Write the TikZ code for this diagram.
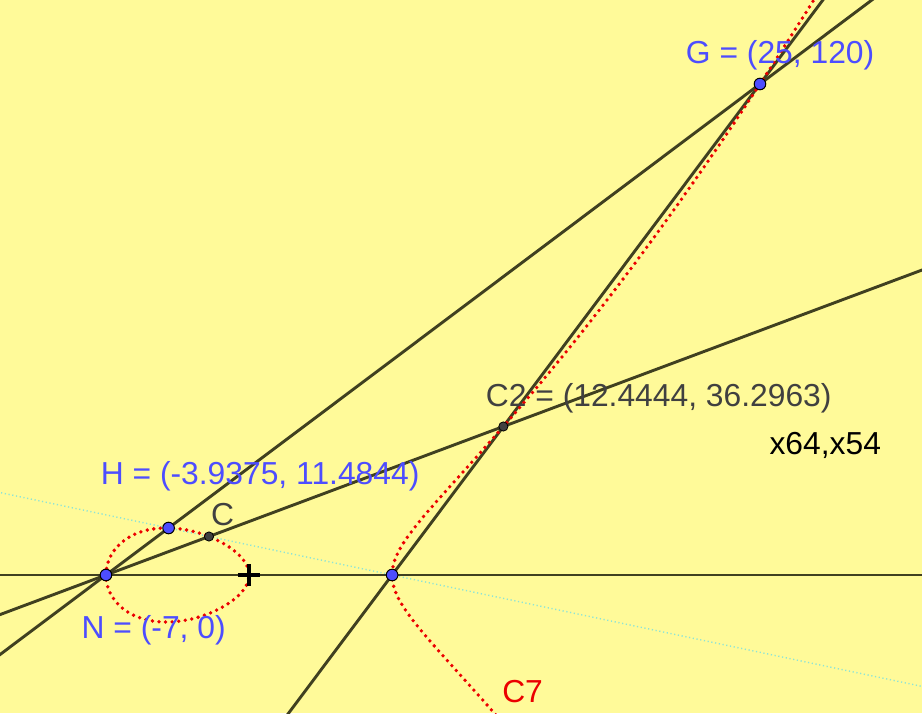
\documentclass[tikz,border=0pt]{standalone}
\usepackage{fontspec}
\setmainfont{Liberation Sans}
\usepackage{tikz}
\usetikzlibrary{calc}

\definecolor{bgyellow}{RGB}{255,250,153}
\definecolor{olive}{RGB}{64,64,32}
\definecolor{ptblue}{RGB}{77,77,255}
\definecolor{ptgray}{RGB}{64,64,64}
\definecolor{paleaqua}{RGB}{140,228,215}

\begin{document}
\begin{tikzpicture}[
    x=10.21875pt, y=2.04583pt,
    bluept/.style={circle, draw=black, line width=0.5pt, fill=ptblue, minimum size=5.8pt, inner sep=0pt},
    darkpt/.style={circle, draw=black, line width=0.4pt, fill=ptgray, minimum size=4.6pt, inner sep=0pt},
    gline/.style={olive, line width=1.45pt},
    helper/.style={paleaqua, line width=0.7pt, dash pattern=on 0.6pt off 1.3pt},
    curve/.style={red!92!black, line width=1.9pt, line cap=round, dash pattern=on 0pt off 3.3pt},
    lbl/.style={anchor=base west, inner sep=0pt, font=\fontsize{15.9}{18}\selectfont}
  ]
  % frame
  \fill[bgyellow] (-12.186,-33.727) rectangle (32.927,140.53);
  \useasboundingbox (-12.186,-33.727) rectangle (32.927,140.53);
  \clip (-12.186,-33.727) rectangle (32.927,140.53);

  % points on y^2 = x^3 - 49x
  \coordinate (n) at (-7,0);
  \coordinate (h) at (-3.9375,11.4844);
  \coordinate (c) at (-1.96,9.408);
  \coordinate (c2) at (12.4444,36.2963);
  \coordinate (g) at (25,120);
  \coordinate (s) at (7,0);
  \coordinate (o) at (0,0);

  % lines
  \draw[helper] ($(c)!-12!(s)$) -- ($(c)!12!(s)$);
  \draw[gline] ($(n)!-12!(s)$) -- ($(n)!12!(s)$);
  \draw[gline] ($(n)!-2!(g)$) -- ($(n)!3!(g)$);
  \draw[gline] ($(n)!-2!(c2)$) -- ($(n)!3!(c2)$);
  \draw[gline] ($(s)!-2!(g)$) -- ($(s)!3!(g)$);

  % the cubic
  \draw[curve] plot[domain=0:360, samples=140, variable=\a, smooth]
    ({-3.5-3.5*cos(\a)}, {sqrt(42.875*(3+cos(\a)))*sin(\a)});
  \draw[curve] plot[domain=-2.6:4.7, samples=140, variable=\t, smooth]
    ({7+\t*\t}, {\t*sqrt((7+\t*\t)*(14+\t*\t))});

  % origin mark
  \draw[black, line width=2pt] ($(o)+(-0.55,0)$) -- ($(o)+(0.55,0)$)
    ($(o)+(0,-2.7)$) -- ($(o)+(0,2.7)$);

  % points
  \node[bluept] (N) at (n) {};
  \node[bluept] (H) at (h) {};
  \node[darkpt] (C) at (c) {};
  \node[darkpt] (C2) at (c2) {};
  \node[bluept] (G) at (g) {};
  \node[bluept] (S) at (s) {};

  % labels
  \node[lbl, ptblue] (Glbl) at (21.36,125.13) {G = (25, 120)};
  \node[lbl, ptgray] (C2lbl) at (11.57,41.06) {C2 = (12.4444, 36.2963)};
  \node[lbl, black] (xlbl) at (25.45,29.33) {x64,x54};
  \node[lbl, ptblue] (Hlbl) at (-7.27,22.0) {H = (-3.9375, 11.4844)};
  \node[lbl, ptgray] (Clbl) at (-1.87,11.98) {C};
  \node[lbl, ptblue] (Nlbl) at (-8.21,-15.64) {N = (-7, 0)};
  \node[lbl, red!92!black] (C7lbl) at (12.37,-31.28) {C7};
\end{tikzpicture}
\end{document}
